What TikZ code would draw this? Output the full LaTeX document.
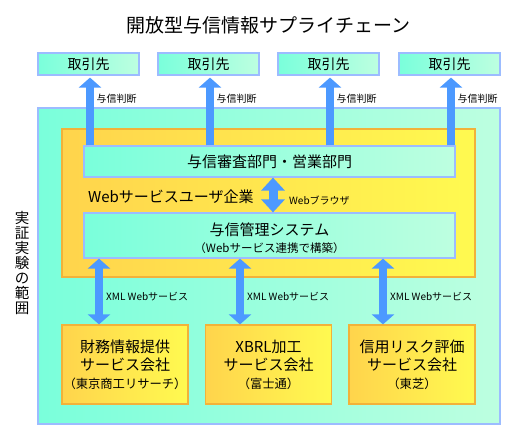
\documentclass[tikz,border=0pt]{standalone}
\usepackage{fontspec}
\setmainfont{Noto Sans CJK JP}
\usetikzlibrary{arrows.meta,calc}
\definecolor{cyL}{HTML}{7AFFDB}
\definecolor{cyR}{HTML}{BDFFE0}
\definecolor{cyB}{HTML}{9CBCFF}
\definecolor{yeL}{HTML}{FFD44C}
\definecolor{yeR}{HTML}{FFFA50}
\definecolor{yeB}{HTML}{F2B23A}
\definecolor{arr}{HTML}{4C99FF}
\definecolor{txt}{HTML}{000000}
\newcommand{\fsA}{\fontsize{15}{18}\selectfont}
\newcommand{\fsB}{\fontsize{12.3}{16}\selectfont}
\newcommand{\fsC}{\fontsize{11.5}{17.5}\selectfont}
\begin{document}
\begin{tikzpicture}[x=1pt,y=-1pt,
  box/.style={rectangle,inner sep=0pt,line width=1.2pt,text=txt,align=center},
  cybox/.style={box,draw=cyB,left color=cyL,right color=cyR},
  yebox/.style={box,draw=yeB,left color=yeL,right color=yeR},
  lbl/.style={inner sep=0pt,text=txt,anchor=west,font=\fontsize{10}{12}\selectfont},
  uparr/.style={draw=arr,line width=8pt,-{Triangle[width=22pt,length=10pt,fill=arr]}},
  dblarr/.style={draw=arr,line width=8pt,{Triangle[width=22pt,length=10pt,fill=arr]}-{Triangle[width=22pt,length=10pt,fill=arr]}},
  midarr/.style={draw=arr,line width=9pt,{Triangle[width=23pt,length=13pt,fill=arr]}-{Triangle[width=23pt,length=13pt,fill=arr]}}
]
\useasboundingbox[fill=white] (0,0) rectangle (512,436);

\node[inner sep=0pt,text=txt,font=\fontsize{19}{21}\selectfont] (title) at (268.5,25) {開放型与信情報サプライチェーン};

% outer and yellow regions
\node[cybox,minimum width=462pt,minimum height=316pt] (outer) at (269,266) {};
\node[yebox,minimum width=413pt,minimum height=148pt] (user) at (268.5,203) {};

% top partner boxes
\foreach \i/\x in {1/88.5,2/208.5,3/328.5,4/449.5}{
  \node[cybox,minimum width=101pt,minimum height=22pt,font=\fontsize{14}{16}\selectfont] (t\i) at (\x,64) {取引先};
}
\foreach \i in {1,...,4}{
  \coordinate (ua\i) at ($(t\i.south)+(1.5,0)$);
}

\node[cybox,minimum width=371pt,minimum height=31pt,font=\fontsize{15}{17}\selectfont] (review) at (269.5,161.5) {与信審査部門・営業部門};

\foreach \i in {1,...,4}{
  \draw[uparr,shorten >=2pt] (review.north -| ua\i) -- (ua\i);
  \node[lbl] (j\i) at ($(ua\i)+(6.5,23)$) {与信判断};
}

\node[cybox,minimum width=371pt,minimum height=45pt] (mgmt) at (269.5,235.5) {};
\node[box,font=\fsA] (mgmttext) at ($(mgmt.center)+(0,2.5)$)
  {与信管理システム\\[-1pt]\fsC （Webサービス連携で構築）};

\node[inner sep=0pt,text=txt,anchor=west,font=\fontsize{15}{17}\selectfont] (ulabel) at (88,197) {Webサービスユーザ企業};

\draw[midarr] ([xshift=3.5pt]review.south) -- ([xshift=3.5pt]mgmt.north);
\node[lbl] (browser) at (289,201) {Webブラウザ};

% bottom service boxes
\node[yebox,minimum width=126pt,minimum height=79pt,font=\fsA] (s1) at (125,364.5)
  {財務情報提供\\サービス会社\\\fsB （東京商工リサーチ）};
\node[yebox,minimum width=126pt,minimum height=79pt,font=\fsA] (s2) at (268.5,364.5)
  {XBRL加工\\サービス会社\\\fsB （富士通）};
\node[yebox,minimum width=126pt,minimum height=79pt,font=\fsA] (s3) at (412,364.5)
  {信用リスク評価\\サービス会社\\\fsB （東芝）};

\foreach \i/\dx in {1/-26,2/-28.5,3/-29}{
  \coordinate (b\i) at ($(s\i.north)+(\dx,0)$);
  \draw[dblarr] (mgmt.south -| b\i) -- (b\i);
  \node[lbl] (x\i) at ($(b\i)+(7,-28)$) {XML Webサービス};
}

% vertical label
\node[inner sep=0pt,text=txt,align=center,font=\fontsize{14.5}{15}\selectfont] (scope) at (22,263)
  {実\\証\\実\\験\\の\\範\\囲};
\end{tikzpicture}
\end{document}
